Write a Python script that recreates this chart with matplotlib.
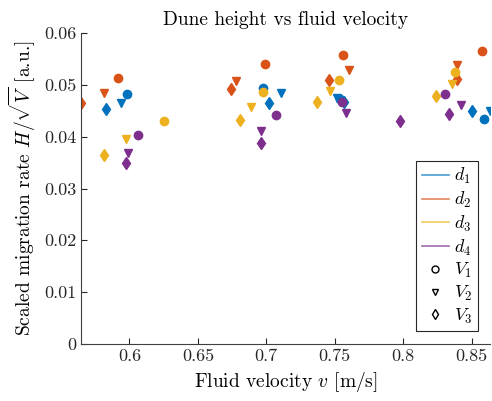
import matplotlib
matplotlib.use("Agg")
import matplotlib.pyplot as plt
from matplotlib.lines import Line2D

plt.rcParams['font.family'] = ['cmr10', 'DejaVu Serif']
plt.rcParams['mathtext.fontset'] = 'cm'
plt.rcParams['axes.formatter.use_mathtext'] = True

# d1 (blue)
v_d1_V1 = [0.598, 0.6974, 0.7536, 0.8591]
h_d1_V1 = [0.04823, 0.04933, 0.04727, 0.04341]
v_d1_V2 = [0.5937, 0.7105, 0.7518, 0.8635]
h_d1_V2 = [0.04656, 0.04837, 0.04741, 0.04496]
v_d1_V3 = [0.583, 0.7018, 0.7566, 0.8507]
h_d1_V3 = [0.04534, 0.04656, 0.04675, 0.04501]
# d2 (orange)
v_d2_V1 = [0.592, 0.6993, 0.7562, 0.8575]
h_d2_V1 = [0.05126, 0.05397, 0.05582, 0.05653]
v_d2_V2 = [0.5817, 0.6781, 0.7603, 0.8397]
h_d2_V2 = [0.04837, 0.05080, 0.05287, 0.05383]
v_d2_V3 = [0.5646, 0.6742, 0.7460, 0.8397]
h_d2_V3 = [0.04644, 0.04920, 0.05100, 0.05113]
# d3 (yellow)
v_d3_V1 = [0.6249, 0.6974, 0.7533, 0.8379]
h_d3_V1 = [0.04308, 0.04868, 0.05094, 0.05248]
v_d3_V2 = [0.5976, 0.6886, 0.7464, 0.8355]
h_d3_V2 = [0.03961, 0.04567, 0.04887, 0.05010]
v_d3_V3 = [0.5815, 0.6810, 0.7374, 0.8240]
h_d3_V3 = [0.03652, 0.04328, 0.04675, 0.04785]
# d4 (purple)
v_d4_V1 = [0.6059, 0.7072, 0.7555, 0.8306]
h_d4_V1 = [0.04038, 0.04418, 0.04675, 0.04823]
v_d4_V2 = [0.5988, 0.6964, 0.7580, 0.8421]
h_d4_V2 = [0.03679, 0.04110, 0.04463, 0.04605]
v_d4_V3 = [0.5976, 0.6962, 0.7977, 0.8335]
h_d4_V3 = [0.03498, 0.03878, 0.04297, 0.04438]

d_labels = ['$d_1$', '$d_2$', '$d_3$', '$d_4$']
V_labels = ['$V_1$', '$V_2$', '$V_3$']
xticks = [0.6, 0.65, 0.7, 0.75, 0.8, 0.85]
yticks = [0, 0.01, 0.02, 0.03, 0.04, 0.05, 0.06]

colors = ['#0072BD', '#D95319', '#EDB120', '#7E2F8E']
markers = ['o', 'v', 'd']

series = [
    [(v_d1_V1, h_d1_V1), (v_d1_V2, h_d1_V2), (v_d1_V3, h_d1_V3)],
    [(v_d2_V1, h_d2_V1), (v_d2_V2, h_d2_V2), (v_d2_V3, h_d2_V3)],
    [(v_d3_V1, h_d3_V1), (v_d3_V2, h_d3_V2), (v_d3_V3, h_d3_V3)],
    [(v_d4_V1, h_d4_V1), (v_d4_V2, h_d4_V2), (v_d4_V3, h_d4_V3)],
]

fig = plt.figure(figsize=(4.92, 4.01), dpi=100)
ax = fig.add_axes([81 / 492, 1 - 344 / 401, 409 / 492, 311 / 401])

for c, d in zip(colors, series):
    for m, (v, h) in zip(markers, d):
        ax.plot(v, h, linestyle='none', marker=m, color=c, ms=6)

allv = [x for d in series for v, h in d for x in v]
ax.set_xlim(min(allv), max(allv))
ax.set_ylim(0, 0.06)
ax.set_xticks(xticks)
ax.set_yticks(yticks)
ax.set_xticklabels([f'{t:g}' for t in xticks])
ax.set_yticklabels([f'{t:g}' for t in yticks])

for s in ['top', 'right']:
    ax.spines[s].set_visible(False)
for s in ['left', 'bottom']:
    ax.spines[s].set_color('0.25')
ax.tick_params(direction='in', length=4, colors='0.15', labelsize=13, width=0.8)

ax.set_title('Dune height vs fluid velocity', fontsize=14)
ax.set_xlabel('Fluid velocity $v$ [m/s]', fontsize=14)
ax.set_ylabel(r'Scaled migration rate $H/\sqrt{V}$ [a.u.]', fontsize=14)

# legend: colours for d, open black markers for V
handles = [Line2D([], [], color=c, lw=1.2, alpha=0.7) for c in colors]
handles += [Line2D([], [], linestyle='none', marker=m, color='k', mfc='none', ms=5)
            for m in markers]
leg = ax.legend(handles, d_labels + V_labels, loc='lower right',
                bbox_to_anchor=(478 / 492, 1 - 331 / 401), bbox_transform=fig.transFigure,
                borderaxespad=0, fancybox=False, framealpha=1, edgecolor='0.15',
                fontsize=13, handlelength=1.5, labelspacing=0.2, borderpad=0.3,
                handletextpad=0.3)
leg.get_frame().set_linewidth(0.8)

fig.savefig('out.png', dpi=100)
